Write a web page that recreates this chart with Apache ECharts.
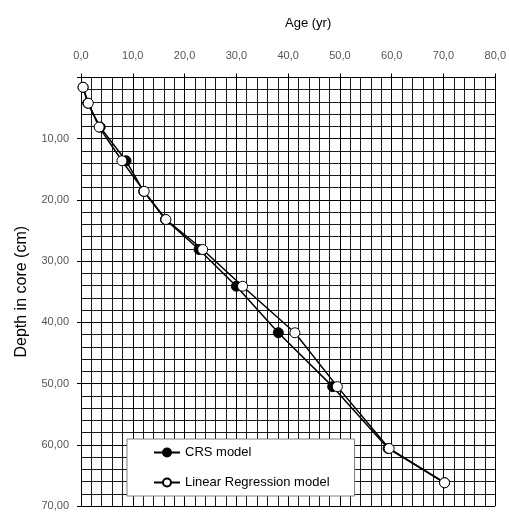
<!DOCTYPE html>
<html>
<head>
<meta charset="utf-8">
<script src="https://cdn.jsdelivr.net/npm/echarts@6/dist/echarts.min.js"></script>
<style>
html,body{margin:0;padding:0;background:#fff;}
#chart{width:509px;height:513px;}
</style>
</head>
<body>
<div id="chart"></div>
<script>
// Data
const depth = [1.6, 4.2, 8.1, 13.6, 18.6, 23.2, 28.1, 34.1, 41.7, 50.5, 60.6, 66.2];
const crsAge = [0.4, 1.3, 3.7, 8.7, 12.1, 16.3, 22.8, 30.0, 38.1, 48.6, 59.3, 70.2];
const lrAge = [0.4, 1.4, 3.5, 7.9, 12.2, 16.4, 23.5, 31.2, 41.3, 49.5, 59.5, 70.2];
const seriesNames = ['CRS model', 'Linear Regression model'];
const xTitle = 'Age (yr)';
const yTitle = 'Depth in core (cm)';

const FONT = '"Liberation Sans", Arial, sans-serif';
const chart = echarts.init(document.getElementById('chart'), null, {renderer: 'canvas'});

const pairs = (xs, ys) => xs.map((x, i) => [x, ys[i]]);

chart.setOption({
  animation: false,
  backgroundColor: '#fff',
  textStyle: {fontFamily: FONT},
  title: {
    text: xTitle,
    left: 280, top: 12,
    textStyle: {fontFamily: FONT, fontSize: 13, fontWeight: 'normal', color: '#000'}
  },
  grid: {left: 81, top: 77.5, right: 12, bottom: 7, containLabel: false},
  legend: {
    orient: 'vertical',
    left: 127, top: 439,
    padding: [7, 25, 7, 26],
    itemGap: 17,
    itemWidth: 26, itemHeight: 10,
    backgroundColor: '#fff',
    borderColor: '#808080', borderWidth: 1,
    textStyle: {fontFamily: FONT, fontSize: 13, color: '#000'},
    data: seriesNames
  },
  xAxis: {
    type: 'value', position: 'top',
    min: 0, max: 80, interval: 10,
    axisLine: {show: true, lineStyle: {color: '#000', width: 1}},
    axisTick: {show: true, length: 4, lineStyle: {color: '#000'}},
    axisLabel: {
      margin: 16, fontSize: 11, color: '#555', fontFamily: FONT,
      formatter: v => v.toFixed(1).replace('.', ',')
    },
    splitLine: {show: true, lineStyle: {color: '#000', width: 1}},
    minorTick: {show: false, splitNumber: 5},
    minorSplitLine: {show: true, lineStyle: {color: '#1a1a1a', width: 1}}
  },
  yAxis: {
    type: 'value', inverse: true,
    min: 0, max: 70, interval: 10,
    name: yTitle, nameLocation: 'middle', nameGap: 51, nameRotate: 90,
    nameTextStyle: {fontFamily: FONT, fontSize: 16, color: '#000'},
    axisLine: {show: true, lineStyle: {color: '#000', width: 1}},
    axisTick: {show: true, length: 4, lineStyle: {color: '#000'}},
    axisLabel: {
      margin: 12, fontSize: 11, color: '#555', fontFamily: FONT,
      formatter: v => v === 0 ? '' : v.toFixed(2).replace('.', ',')
    },
    splitLine: {show: true, lineStyle: {color: '#000', width: 1}},
    minorTick: {show: false, splitNumber: 5},
    minorSplitLine: {show: true, lineStyle: {color: '#1a1a1a', width: 1}}
  },
  series: [
    {
      name: seriesNames[0], type: 'line',
      data: pairs(crsAge, depth),
      symbol: 'circle', symbolSize: 10,
      lineStyle: {color: '#000', width: 1.5},
      itemStyle: {color: '#000', borderColor: '#000', borderWidth: 1}
    },
    {
      name: seriesNames[1], type: 'line',
      data: pairs(lrAge, depth),
      symbol: 'circle', symbolSize: 10,
      lineStyle: {color: '#000', width: 1.5},
      itemStyle: {color: '#fff', borderColor: '#000', borderWidth: 1}
    }
  ]
});
</script>
</body>
</html>
